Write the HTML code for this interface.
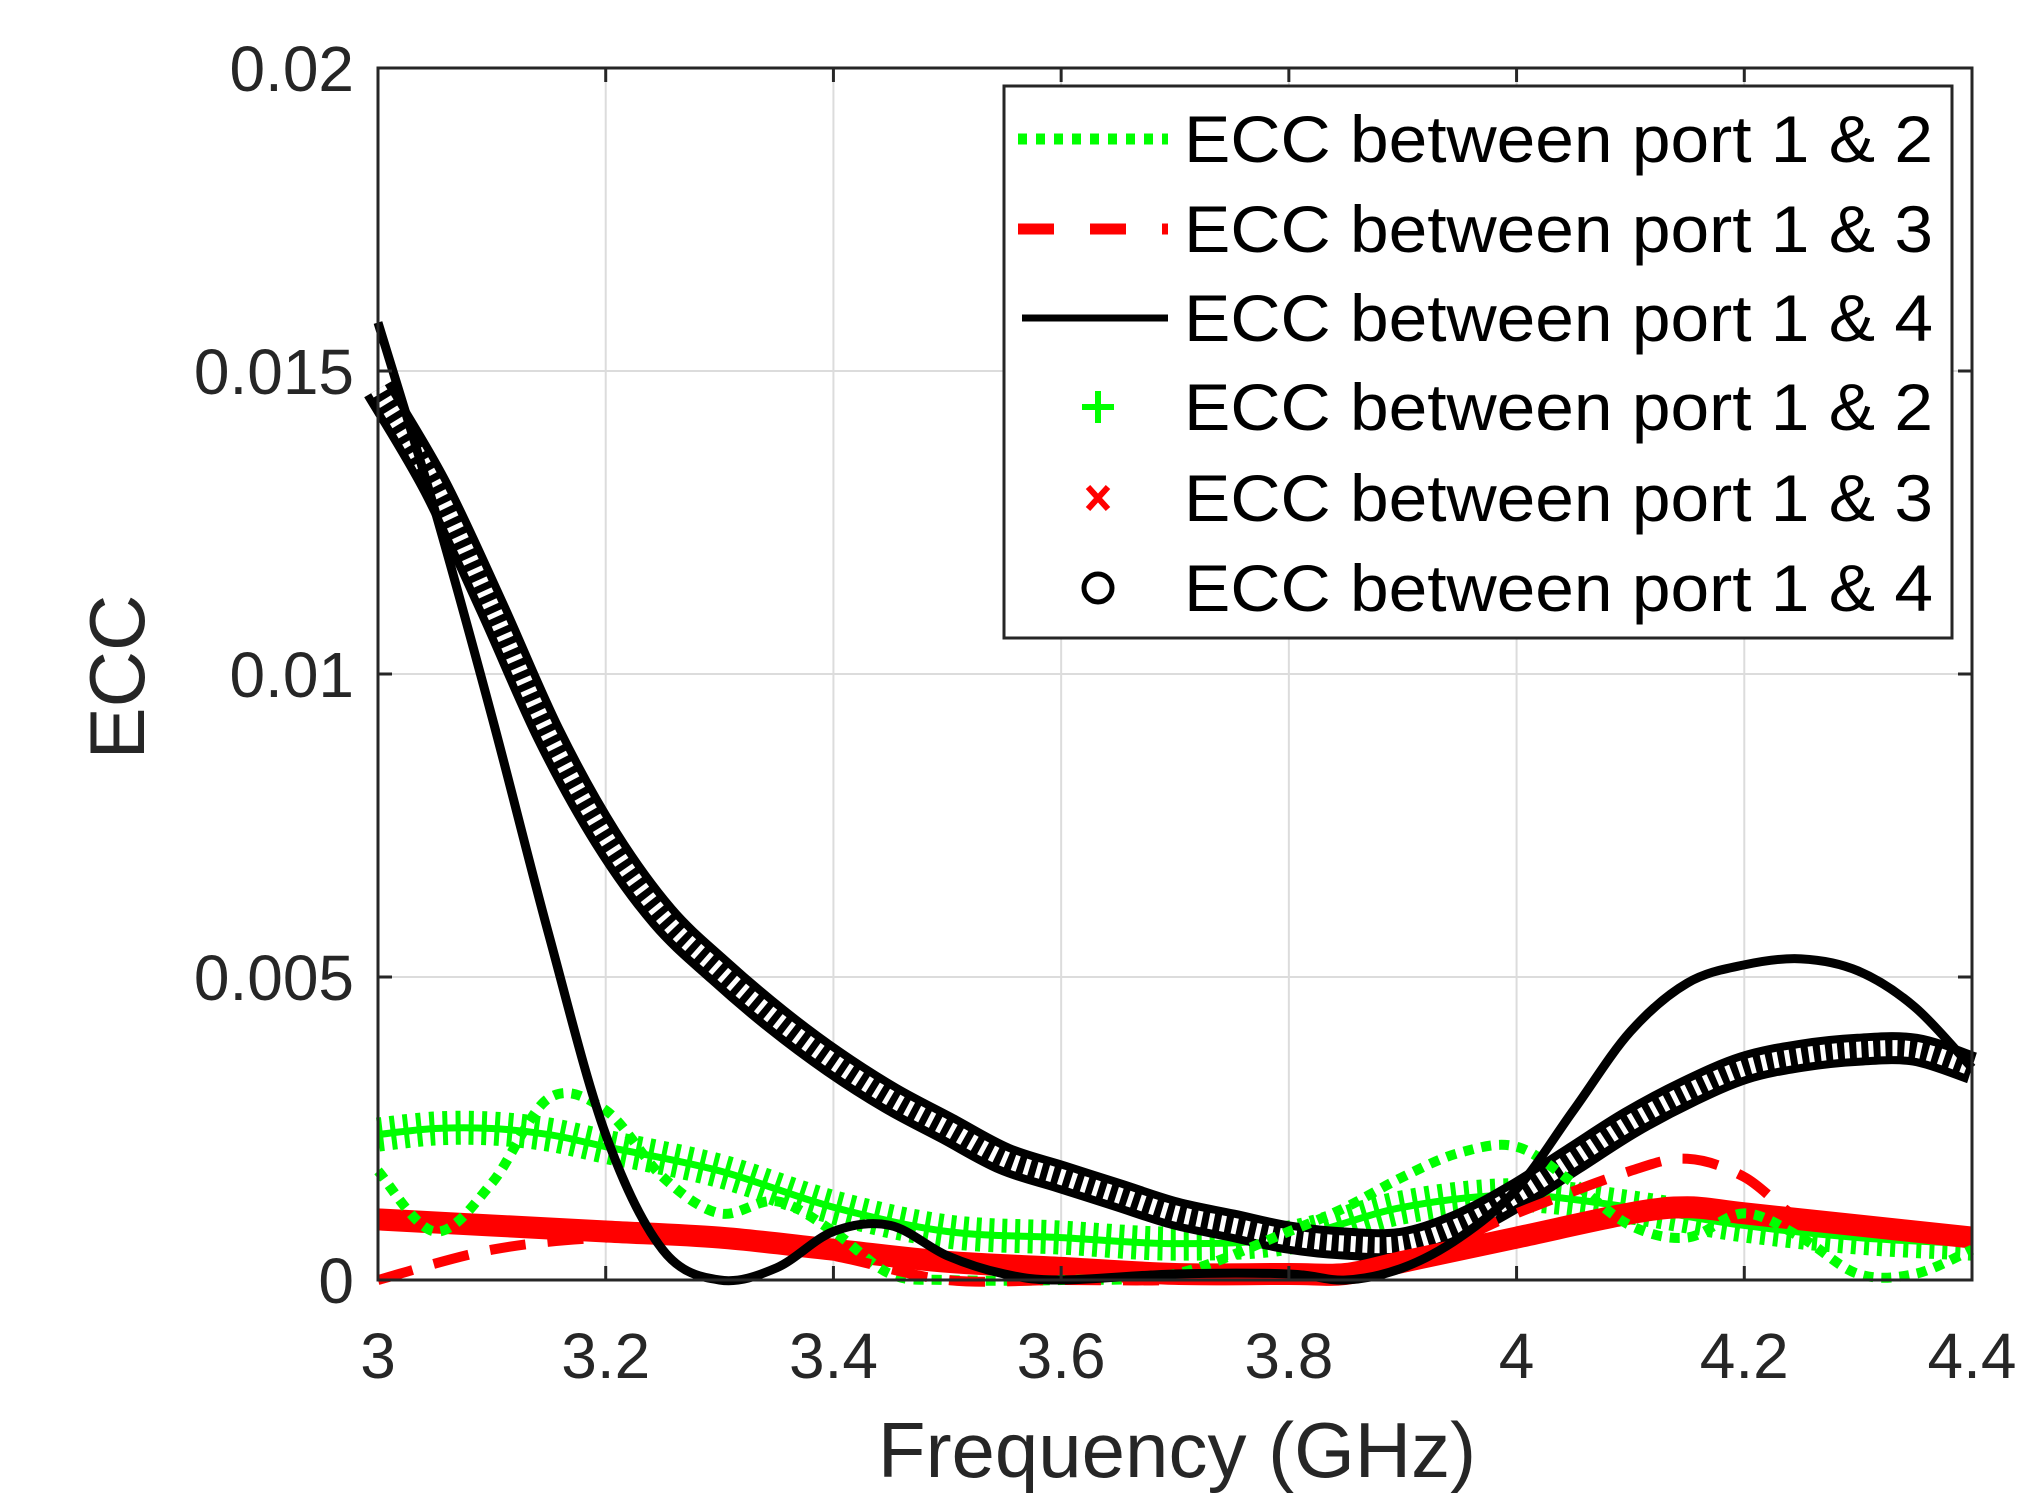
<!DOCTYPE html>
<html><head><meta charset="utf-8"><style>
html,body{margin:0;padding:0;background:#fff;}
svg{display:block;font-family:"Liberation Sans",Arial,sans-serif;}
</style></head><body>
<svg id="chart" width="2043" height="1506" viewBox="0 0 2043 1506" xmlns="http://www.w3.org/2000/svg">
<rect width="2043" height="1506" fill="#fff"/>
<g id="grid"></g>
<g id="series"></g>
<g id="axes"></g>
<g id="legend"></g>
</svg>
<script>
const xTicks=[3,3.2,3.4,3.6,3.8,4,4.2,4.4];
const xTickLabels=["3","3.2","3.4","3.6","3.8","4","4.2","4.4"];
const yTicks=[0,0.005,0.01,0.015,0.02];
const yTickLabels=["0","0.005","0.01","0.015","0.02"];
const legendLabels=["ECC between port 1 & 2","ECC between port 1 & 3","ECC between port 1 & 4","ECC between port 1 & 2","ECC between port 1 & 3","ECC between port 1 & 4"];

const f14=[3.0,3.05,3.1,3.15,3.2,3.25,3.3,3.35,3.4,3.45,3.5,3.55,3.6,3.7,3.8,3.85,3.9,3.95,4.0,4.05,4.1,4.15,4.2,4.25,4.3,4.35,4.4];
const ecc14Line=[0.0158,0.0127,0.0093,0.0057,0.0024,0.0005,0.0,0.0002,0.0008,0.0009,0.0004,0.0001,0.0,0.0001,0.0001,0.0,0.0002,0.0007,0.0015,0.0028,0.0041,0.0049,0.0052,0.0053,0.0051,0.0045,0.0035];

const f14m=[3.0,3.05,3.1,3.15,3.2,3.25,3.3,3.35,3.4,3.45,3.5,3.55,3.6,3.65,3.7,3.75,3.8,3.85,3.9,3.95,4.0,4.05,4.1,4.15,4.2,4.25,4.3,4.35,4.4];
const ecc14Mark=[0.0147,0.0131,0.0111,0.009,0.0073,0.006,0.0051,0.0043,0.0036,0.003,0.0025,0.002,0.0017,0.0014,0.0011,0.0009,0.0007,0.0006,0.0006,0.0009,0.0014,0.002,0.0026,0.0031,0.0035,0.0037,0.0038,0.0038,0.0035];

const f12m=[3.0,3.05,3.1,3.15,3.2,3.3,3.4,3.5,3.6,3.7,3.8,3.9,4.0,4.1,4.2,4.3,4.4];
const ecc12Mark=[0.0024,0.0025,0.0025,0.0024,0.0022,0.0018,0.0012,0.0008,0.0007,0.0006,0.0007,0.0012,0.0014,0.0012,0.0009,0.0007,0.0006];

const f13m=[3.0,3.1,3.2,3.3,3.4,3.5,3.6,3.7,3.8,3.85,3.9,4.0,4.1,4.15,4.2,4.3,4.4];
const ecc13Mark=[0.001,0.0009,0.0008,0.0007,0.0005,0.0003,0.0002,0.0001,0.0001,0.0001,0.0003,0.0007,0.0011,0.0012,0.0011,0.0009,0.0007];

const f12=[3.0,3.05,3.1,3.15,3.2,3.25,3.3,3.35,3.4,3.45,3.5,3.6,3.7,3.8,3.85,3.9,3.95,4.0,4.05,4.1,4.15,4.2,4.25,4.3,4.35,4.4];
const ecc12Line=[0.0018,0.0008,0.0016,0.003,0.0028,0.0017,0.0011,0.0013,0.0008,0.0001,0.0,0.0,0.0001,0.0008,0.0012,0.0017,0.0021,0.0022,0.0016,0.0009,0.0007,0.0011,0.0007,0.0001,0.0001,0.0005];

const f13=[3.0,3.1,3.2,3.3,3.4,3.5,3.6,3.7,3.8,3.9,4.0,4.1,4.15,4.2,4.25,4.3,4.4];
const ecc13Line=[0.0,0.0005,0.0007,0.0007,0.0004,0.0,0.0,0.0,0.0001,0.0003,0.0011,0.0018,0.002,0.0017,0.001,0.0009,0.0007];

const X0=378,X1=1972,Y0=1280,Y1=68;
const xs=v=>X0+(v-3)/(4.4-3)*(X1-X0);
const ys=v=>Y0-v/0.02*(Y0-Y1);
const NS="http://www.w3.org/2000/svg";
function mk(tag,attrs,parent){const e=document.createElementNS(NS,tag);for(const k in attrs)e.setAttribute(k,attrs[k]);parent.appendChild(e);return e;}
function smooth(xa,ya){
  const p=xa.map((x,i)=>[xs(x),ys(ya[i])]);
  let d="M"+p[0][0]+","+p[0][1];
  for(let i=0;i<p.length-1;i++){
    const p0=p[Math.max(0,i-1)],p1=p[i],p2=p[i+1],p3=p[Math.min(p.length-1,i+2)];
    const c1=[p1[0]+(p2[0]-p0[0])/6,p1[1]+(p2[1]-p0[1])/6];
    const c2=[p2[0]-(p3[0]-p1[0])/6,p2[1]-(p3[1]-p1[1])/6];
    d+=" C"+c1[0]+","+c1[1]+" "+c2[0]+","+c2[1]+" "+p2[0]+","+p2[1];
  }
  return d;
}
const grid=document.getElementById('grid'),axes=document.getElementById('axes'),ser=document.getElementById('series'),leg=document.getElementById('legend');
xTicks.forEach((t,i)=>{
  const g=mk('line',{x1:xs(t),x2:xs(t),y1:Y1,y2:Y0,stroke:'#dcdcdc','stroke-width':2},grid);
  
  
  mk('line',{x1:xs(t),x2:xs(t),y1:Y0,y2:Y0-14,stroke:'#262626','stroke-width':3},axes);
  mk('line',{x1:xs(t),x2:xs(t),y1:Y1,y2:Y1+14,stroke:'#262626','stroke-width':3},axes);
  const tx=mk('text',{x:xs(t),y:1378,'text-anchor':'middle','font-size':64,fill:'#262626'},axes);
  tx.textContent=xTickLabels[i];
  
  
});
yTicks.forEach((t,i)=>{
  const g=mk('line',{x1:X0,x2:X1,y1:ys(t),y2:ys(t),stroke:'#dcdcdc','stroke-width':2},grid);
  
  
  mk('line',{x1:X0,x2:X0+14,y1:ys(t),y2:ys(t),stroke:'#262626','stroke-width':3},axes);
  mk('line',{x1:X1,x2:X1-14,y1:ys(t),y2:ys(t),stroke:'#262626','stroke-width':3},axes);
  const tx=mk('text',{x:354,y:ys(t)+23,'text-anchor':'end','font-size':64,fill:'#262626'},axes);
  tx.textContent=yTickLabels[i];
  
  
});
const box=mk('rect',{x:X0,y:Y1,width:X1-X0,height:Y0-Y1,fill:'none',stroke:'#262626','stroke-width':3},axes);


const xl=mk('text',{x:1177,y:1477,'text-anchor':'middle','font-size':78,fill:'#262626'},axes);
xl.textContent="Frequency (GHz)";


const yl=mk('text',{x:0,y:0,'text-anchor':'middle','font-size':78,fill:'#262626',transform:'translate(144,677) rotate(-90)'},axes);
yl.textContent="ECC";



let s;
s=mk('path',{d:smooth(f12m,ecc12Mark),fill:'none',stroke:'#00ff00','stroke-width':34,'stroke-dasharray':'5 8'},ser);


s=mk('path',{d:smooth(f12m,ecc12Mark),fill:'none',stroke:'#00ff00','stroke-width':7},ser);


s=mk('path',{d:smooth(f14m,ecc14Mark),fill:'none',stroke:'#000','stroke-width':32},ser);


s=mk('path',{d:smooth(f14m,ecc14Mark),fill:'none',stroke:'#fff','stroke-width':16,'stroke-dasharray':'5 7'},ser);


s=mk('path',{d:smooth(f13m,ecc13Mark),fill:'none',stroke:'#ff0000','stroke-width':22},ser);


s=mk('path',{d:smooth(f12,ecc12Line),fill:'none',stroke:'#00ff00','stroke-width':10,'stroke-dasharray':'10 8'},ser);


s=mk('path',{d:smooth(f13,ecc13Line),fill:'none',stroke:'#ff0000','stroke-width':10,'stroke-dasharray':'36 22'},ser);


s=mk('path',{d:smooth(f14,ecc14Line),fill:'none',stroke:'#000','stroke-width':9},ser);



const lb=mk('rect',{x:1004,y:86,width:948,height:552,fill:'#fff',stroke:'#262626','stroke-width':3},leg);


const rows=[139,229,318,407,498,588];
legendLabels.forEach((t,i)=>{
  const y=rows[i];
  const tx=mk('text',{x:1184,y:y+23,'font-size':66,fill:'#000',textLength:749,lengthAdjust:'spacingAndGlyphs'},leg);
  tx.textContent=t;
  
  
});
mk('line',{x1:1018,x2:1168,y1:rows[0],y2:rows[0],stroke:'#00ff00','stroke-width':11,'stroke-dasharray':'9 9'},leg);
mk('line',{x1:1018,x2:1168,y1:rows[1],y2:rows[1],stroke:'#ff0000','stroke-width':11,'stroke-dasharray':'36 36'},leg);
mk('line',{x1:1022,x2:1168,y1:rows[2],y2:rows[2],stroke:'#000','stroke-width':7},leg);
mk('path',{d:`M1098,${rows[3]-16}V${rows[3]+16}M1082,${rows[3]}H1114`,stroke:'#00ff00','stroke-width':6},leg);
mk('path',{d:`M1088,${rows[4]-11}L1108,${rows[4]+11}M1108,${rows[4]-11}L1088,${rows[4]+11}`,stroke:'#ff0000','stroke-width':6},leg);
mk('circle',{cx:1098,cy:rows[5],r:14,fill:'none',stroke:'#000','stroke-width':5},leg);
</script>
</body></html>
